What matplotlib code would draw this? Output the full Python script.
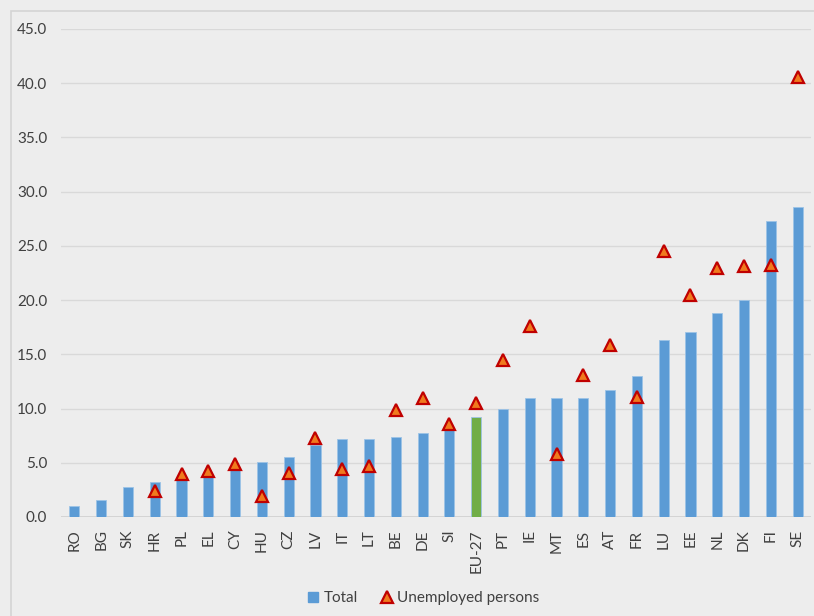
import matplotlib
matplotlib.use("Agg")
import matplotlib.pyplot as plt
from matplotlib.patches import Rectangle
from matplotlib.lines import Line2D

countries = ["RO", "BG", "SK", "HR", "PL", "EL", "CY", "HU", "CZ", "LV", "IT", "LT", "BE", "DE",
             "SI", "EU-27", "PT", "IE", "MT", "ES", "AT", "FR", "LU", "EE", "NL", "DK", "FI", "SE"]
total = [1.0, 1.6, 2.8, 3.2, 3.7, 3.9, 4.5, 5.1, 5.5, 6.6, 7.2, 7.2, 7.4, 7.7,
         8.2, 9.2, 10.0, 11.0, 11.0, 11.0, 11.7, 13.0, 16.3, 17.1, 18.8, 20.0, 27.3, 28.6]
unemployed = [None, None, None, 2.4, 4.0, 4.2, 4.9, 1.9, 4.1, 7.3, 4.4, 4.7, 9.9, 11.0,
              8.6, 10.5, 14.5, 17.6, 5.8, 13.1, 15.9, 11.1, 24.5, 20.5, 23.0, 23.1, 23.2, 40.6]
yticks = [0, 5, 10, 15, 20, 25, 30, 35, 40, 45]

BG = "#EDEDED"
BLUE = "#5B9BD5"
GREEN = "#70AD47"
TXT = "#404040"

plt.rcParams["font.family"] = ["Lato", "DejaVu Sans"]

fig = plt.figure(figsize=(8.14, 6.16), dpi=100, facecolor=BG)
fig.patches.append(Rectangle((11 / 814, -0.1), 1.2, (616 - 11) / 616 + 0.1,
                             transform=fig.transFigure, fill=False,
                             edgecolor="#D4D4D4", linewidth=1.2))

ax = fig.add_axes([61 / 814, (616 - 517) / 616, 750 / 814, 488 / 616])
ax.set_facecolor(BG)

n = len(countries)
xs = list(range(n))
colors = [GREEN if c == "EU-27" else BLUE for c in countries]
ax.bar(xs, total, width=0.38, color=colors, edgecolor="#9DC3E6", linewidth=0.6, zorder=2)

ux = [x for x, v in zip(xs, unemployed) if v is not None]
uv = [v for v in unemployed if v is not None]
ax.plot(ux, uv, linestyle="none", marker="^", markersize=8.5,
        markerfacecolor="#F07A1E", markeredgecolor="#C00000", markeredgewidth=1.6, zorder=3)

ax.set_xlim(-0.5, n - 0.5)
ax.set_ylim(0, 45)
ax.set_yticks(yticks)
ax.set_yticklabels([f"{t:.1f}" for t in yticks])
ax.set_xticks(xs)
ax.set_xticklabels(countries, rotation=90)
ax.tick_params(axis="both", length=0, colors=TXT, labelsize=11)
ax.tick_params(axis="x", pad=9)
ax.tick_params(axis="y", pad=10)
for s in ax.spines.values():
    s.set_visible(False)
ax.grid(axis="y", color="#D9D9D9", linewidth=1.0, zorder=0)
ax.set_axisbelow(True)
ax.axhline(0, color="#D0D0D0", linewidth=1.2, zorder=1)

handles = [
    Line2D([], [], linestyle="none", marker="s", markersize=7.5, markerfacecolor=BLUE,
           markeredgecolor=BLUE, label="Total"),
    Line2D([], [], linestyle="none", marker="^", markersize=8.5, markerfacecolor="#F07A1E",
           markeredgecolor="#C00000", markeredgewidth=1.6, label="Unemployed persons"),
]
leg = fig.legend(handles=handles, loc="center", bbox_to_anchor=(423 / 814, 1 - 598 / 616),
                 ncol=2, frameon=False, fontsize=11, handlelength=0.8, handletextpad=0.3,
                 columnspacing=1.5)
for t in leg.get_texts():
    t.set_color(TXT)

fig.savefig("out.png", dpi=100, facecolor=BG)
